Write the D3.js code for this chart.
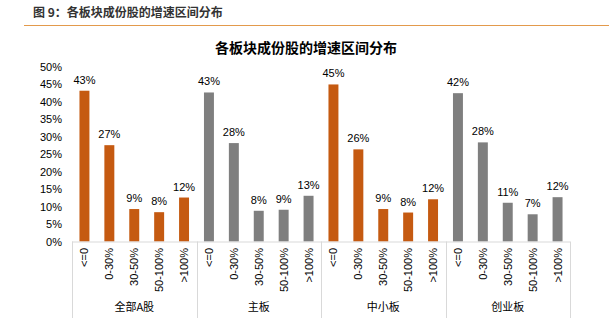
<!DOCTYPE html>
<html><head><meta charset="utf-8">
<script src="https://cdn.jsdelivr.net/npm/d3@7"></script>
<style>body{margin:0;background:#fff}svg{display:block}</style>
</head><body>
<script>
const groups = ["全部A股", "主板", "中小板", "创业板"];
const categories = ["<=0", "0-30%", "30-50%", "50-100%", ">100%"];
const valuesAll = [43.2, 27.6, 9.3, 8.4, 12.6];
const valuesMain = [42.7, 28.2, 8.8, 9.1, 13.1];
const valuesSME = [45.0, 26.4, 9.3, 8.3, 12.1];
const valuesGEM = [42.5, 28.4, 11.1, 7.8, 12.7];
const labelsAll = ["43%", "27%", "9%", "8%", "12%"];
const labelsMain = ["43%", "28%", "8%", "9%", "13%"];
const labelsSME = ["45%", "26%", "9%", "8%", "12%"];
const labelsGEM = ["42%", "28%", "11%", "7%", "12%"];
const yTicks = [0, 5, 10, 15, 20, 25, 30, 35, 40, 45, 50];
const groupColors = ["#C55A11", "#7F7F7F", "#C55A11", "#7F7F7F"];

const seriesVals = [valuesAll, valuesMain, valuesSME, valuesGEM];
const seriesLabels = [labelsAll, labelsMain, labelsSME, labelsGEM];

const W = 609, H = 323;
const svg = d3.select("body").append("svg").attr("width", W).attr("height", H);
const font = "'Liberation Sans', Arial, sans-serif";

// Header
svg.append("text").attr("x", 33).attr("y", 17).attr("font-family", "'Noto Sans CJK SC', sans-serif")
  .attr("font-size", 12).attr("font-weight", "bold").attr("fill", "#333").text("图 9：各板块成份股的增速区间分布");
svg.append("line").attr("x1", 24).attr("x2", 609).attr("y1", 25.5).attr("y2", 25.5)
  .attr("stroke", "#E39A4C").attr("stroke-width", 1.2);

// Title
svg.append("text").attr("x", 306).attr("y", 53).attr("text-anchor", "middle")
  .attr("font-family", "'Noto Sans CJK SC', sans-serif").attr("font-size", 14).attr("font-weight", "bold")
  .attr("fill", "#000").text("各板块成份股的增速区间分布");

const pLeft = 72, pRight = 570, pTop = 67, pBottom = 241.5;
const data = [];
groups.forEach((g, gi) => categories.forEach((c, ci) => data.push({g, gi, c, ci, v: seriesVals[gi][ci], l: seriesLabels[gi][ci], key: gi + "|" + ci})));

const x = d3.scaleBand().domain(data.map(d => d.key)).range([pLeft, pRight]).paddingInner(0.6).paddingOuter(0.3);
const xg = d3.scaleBand().domain(groups).range([pLeft, pRight]);
const y = d3.scaleLinear().domain([0, 50]).range([pBottom, pTop]);

// Y axis labels
const yAxis = d3.axisLeft(y).tickValues(yTicks).tickFormat(d => d + "%").tickSize(0).tickPadding(10);
const ya = svg.append("g").attr("transform", `translate(${pLeft},0)`).call(yAxis);
ya.select(".domain").remove();
ya.selectAll("text").attr("font-family", font).attr("font-size", 11).attr("fill", "#000");

// Bars
svg.selectAll("rect.bar").data(data).enter().append("rect")
  .attr("x", d => x(d.key)).attr("width", x.bandwidth())
  .attr("y", d => y(d.v)).attr("height", d => y(0) - y(d.v))
  .attr("fill", d => groupColors[d.gi]);

// Value labels
svg.selectAll("text.val").data(data).enter().append("text")
  .attr("x", d => x(d.key) + x.bandwidth() / 2).attr("y", d => y(d.v) - 7)
  .attr("text-anchor", "middle").attr("font-family", font).attr("font-size", 11).attr("fill", "#000")
  .text(d => d.l);

// X axis line
svg.append("line").attr("x1", pLeft).attr("x2", pRight).attr("y1", pBottom + 0.5).attr("y2", pBottom + 0.5)
  .attr("stroke", "#D9D9D9");
// Group separators
groups.concat(["_end"]).forEach((g, i) => {
  const xx = i < groups.length ? xg(g) : pRight;
  svg.append("line").attr("x1", Math.round(xx) + 0.5).attr("x2", Math.round(xx) + 0.5)
    .attr("y1", pBottom).attr("y2", 318).attr("stroke", "#D9D9D9");
});

// Category labels rotated
svg.selectAll("text.cat").data(data).enter().append("text")
  .attr("transform", d => `translate(${x(d.key) + x.bandwidth() / 2 + 4},248) rotate(-90)`)
  .attr("text-anchor", "end").attr("font-family", font).attr("font-size", 11).attr("fill", "#000")
  .text(d => d.c);

// Group labels
svg.selectAll("text.grp").data(groups).enter().append("text")
  .attr("x", d => xg(d) + xg.bandwidth() / 2).attr("y", 311).attr("text-anchor", "middle")
  .attr("font-family", "'Noto Sans CJK SC', sans-serif").attr("font-size", 11).attr("fill", "#000")
  .text(d => d);
</script>
</body></html>
